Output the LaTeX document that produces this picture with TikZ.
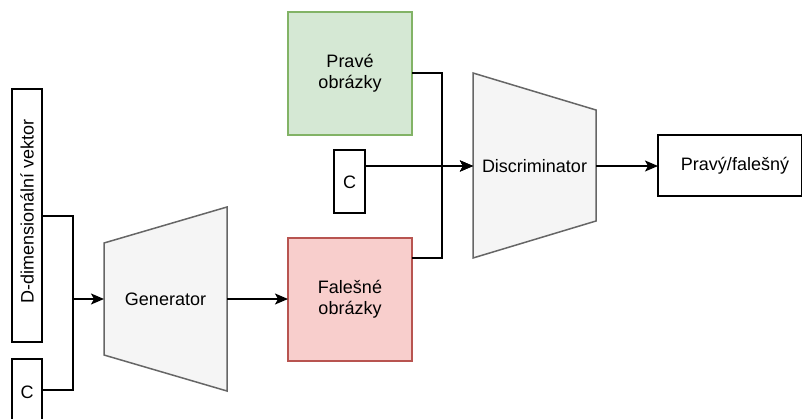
\documentclass[tikz,border=0pt]{standalone}
\usepackage{fontspec}
\setmainfont{Liberation Sans}
\usetikzlibrary{arrows.meta}
\definecolor{realfill}{HTML}{D5E8D4}
\definecolor{realdraw}{HTML}{82B366}
\definecolor{fakefill}{HTML}{F8CECC}
\definecolor{fakedraw}{HTML}{B85450}
\definecolor{netfill}{HTML}{F5F5F5}
\definecolor{netdraw}{HTML}{666666}
\begin{document}
\begin{tikzpicture}[x=1pt,y=-1pt,
  font=\fontsize{18}{21}\selectfont,
  plainbox/.style={draw=black,line width=1.5pt,fill=white},
  realbox/.style={draw=realdraw,line width=1.5pt,fill=realfill},
  fakebox/.style={draw=fakedraw,line width=1.5pt,fill=fakefill},
  netshape/.style={draw=netdraw,line width=1.5pt,fill=netfill},
  wire/.style={draw=black,line width=1.5pt},
  flow/.style={wire,-{Stealth[length=13pt,width=11pt,inset=3pt]}}]
\useasboundingbox (0,0) rectangle (802,418);

% input vectors
\draw[plainbox] (12,89) rectangle (42,342);
\node[rotate=90] (dvec) at (27,211) {D-dimensionální vektor};
\coordinate (dvecE) at (42,216);
\draw[plainbox] (12,359) rectangle (42,425);
\node (cgen) at (27,392) {C};
\coordinate (cgenE) at (42,390);

% generator
\draw[netshape] (104,243) -- (227,207) -- (227,391) -- (104,355) -- cycle;
\node (gen) at (165.5,299) {Generator};
\coordinate (genW) at (104,299);
\coordinate (genE) at (227,299);
\coordinate (join) at (73,299);

% image sources
\draw[realbox] (288,12) rectangle (412,135);
\node[align=center] (real) at (350,73.5) {Pravé\\obrázky};
\coordinate (realE) at (412,73);
\draw[fakebox] (288,238) rectangle (412,361);
\node[align=center] (fake) at (350,299.5) {Falešné\\obrázky};
\coordinate (fakeW) at (288,299);
\coordinate (fakeE) at (412,258);
\draw[plainbox] (334,150) rectangle (365,213);
\node (cdis) at (349.5,182) {C};
\coordinate (cdisE) at (365,166);

% discriminator
\draw[netshape] (473,73) -- (596,110) -- (596,221) -- (473,258) -- cycle;
\node (dis) at (534.5,166) {Discriminator};
\coordinate (disW) at (473,166);
\coordinate (disE) at (596,166);

% output
\draw[plainbox] (658,135) rectangle (801.5,196);
\node (out) at (735,166) {Pravý/falešný};
\coordinate (outW) at (658,166);

% connectors
\draw[wire] (dvecE) -| (join);
\draw[flow] (cgenE) -| (join) -- (genW);
\draw[flow] (genE) -- (fakeW);
\draw[flow] (realE) -| (442,166) -- (disW);
\draw[flow] (fakeE) -| (442,166) -- (disW);
\draw[flow] (cdisE) -- (disW);
\draw[flow] (disE) -- (outW);
\end{tikzpicture}
\end{document}
